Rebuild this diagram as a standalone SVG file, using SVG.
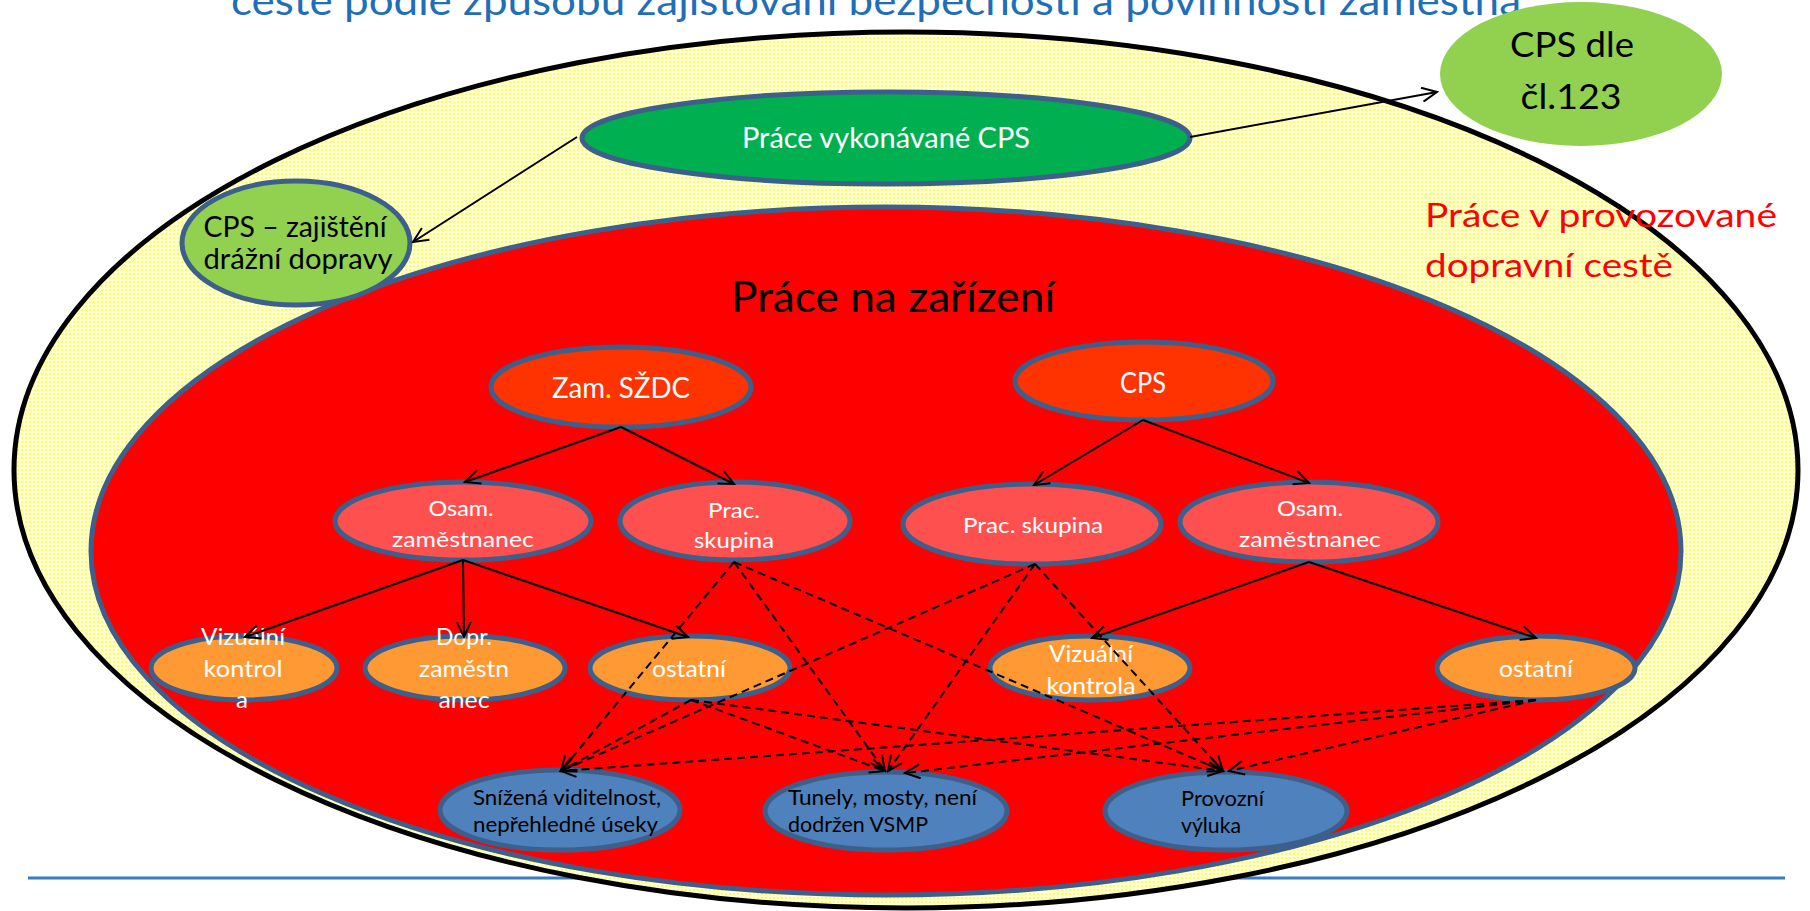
<svg xmlns="http://www.w3.org/2000/svg" width="1810" height="911" viewBox="0 0 1810 911">
<defs>
<pattern id="dots" width="4" height="4" patternUnits="userSpaceOnUse">
<rect width="4" height="4" fill="#ffffd6"/>
<circle cx="2" cy="2" r="1.1" fill="#ffff3c"/>
</pattern>
<marker id="arr" viewBox="0 0 18 16" refX="16" refY="8" markerWidth="18" markerHeight="16" markerUnits="userSpaceOnUse" orient="auto">
<path d="M1,1 L16,8 L1,15" fill="none" stroke="#000" stroke-width="2"/>
</marker>
<style>
text{font-family:Lato,"Liberation Sans","Noto Sans",sans-serif}
.node{stroke:#3d5f8c;stroke-width:5}
.zam{fill:#ff3300}
.sal{fill:#ff5050}
.ora{fill:#ff9933}
.blu{fill:#4f81bd}
.wt{fill:#ffffff;text-anchor:middle}
.bt{fill:#000000}
.solid{stroke:#000;stroke-width:2;fill:none;marker-end:url(#arr)}
.dash{stroke:#000;stroke-width:2;fill:none;stroke-dasharray:8 5;marker-end:url(#arr)}
</style>
</defs>
<rect width="1810" height="911" fill="#ffffff"/>
<text x="231" y="15" font-size="40" fill="#1e6fb8" textLength="1290" lengthAdjust="spacingAndGlyphs">cestě podle způsobu zajišťování bezpečnosti a povinností zaměstna</text>
<line x1="28" y1="878" x2="1785" y2="878" stroke="#3a7cc0" stroke-width="3"/>
<g id="provozovana-cesta">
<ellipse cx="906" cy="470" rx="892" ry="438" fill="url(#dots)" stroke="#000" stroke-width="5"/>
<text x="1425" y="227" font-size="33" fill="#ff0000" textLength="352" lengthAdjust="spacingAndGlyphs">Práce v provozované</text>
<text x="1425" y="277" font-size="33" fill="#ff0000" textLength="248" lengthAdjust="spacingAndGlyphs">dopravní cestě</text>
</g>
<g id="prace-na-zarizeni">
<ellipse cx="886" cy="551" rx="795" ry="344" fill="#ff0000" class="node"/>
<text x="731" y="312" font-size="42" class="bt" textLength="324" lengthAdjust="spacingAndGlyphs">Práce na zařízení</text>
</g>
<g id="prace-vykonavane-cps">
<ellipse cx="886" cy="138" rx="304" ry="46" fill="#00b050" class="node"/>
<text x="886" y="148" font-size="28" class="wt" textLength="288" lengthAdjust="spacingAndGlyphs">Práce vykonávané CPS</text>
</g>
<g id="cps-dle-cl123">
<ellipse cx="1581" cy="74" rx="141" ry="72" fill="#92d050"/>
<text x="1572" y="57" font-size="34" class="bt" text-anchor="middle" textLength="124" lengthAdjust="spacingAndGlyphs">CPS dle</text>
<text x="1571" y="109" font-size="34" class="bt" text-anchor="middle" textLength="101" lengthAdjust="spacingAndGlyphs">čl.123</text>
</g>
<g id="cps-zajisteni">
<ellipse cx="296" cy="243" rx="114" ry="62" fill="#92d050" class="node"/>
<text x="295" y="237" font-size="28" class="bt" text-anchor="middle" textLength="183" lengthAdjust="spacingAndGlyphs">CPS – zajištění</text>
<text x="298" y="269" font-size="28" class="bt" text-anchor="middle" textLength="189" lengthAdjust="spacingAndGlyphs">drážní dopravy</text>
</g>
<g id="zam-szdc">
<ellipse cx="621" cy="387" rx="130" ry="40" class="node zam"/>
<text x="621" y="398" font-size="29" class="wt" textLength="138" lengthAdjust="spacingAndGlyphs">Zam<tspan fill="#ffff00">.</tspan> SŽDC</text>
</g>
<g id="cps">
<ellipse cx="1144" cy="381" rx="129" ry="39" class="node zam"/>
<text x="1143" y="393" font-size="28" class="wt" textLength="46" lengthAdjust="spacingAndGlyphs">CPS</text>
</g>
<g id="osam-l">
<ellipse cx="463" cy="521" rx="128" ry="39" class="node sal"/>
<text x="461" y="516" font-size="22" class="wt" textLength="65" lengthAdjust="spacingAndGlyphs">Osam.</text>
<text x="463" y="547" font-size="22" class="wt" textLength="142" lengthAdjust="spacingAndGlyphs">zaměstnanec</text>
</g>
<g id="prac-l">
<ellipse cx="735" cy="521" rx="115" ry="39" class="node sal"/>
<text x="734" y="518" font-size="22" class="wt" textLength="52" lengthAdjust="spacingAndGlyphs">Prac.</text>
<text x="734" y="548" font-size="22" class="wt" textLength="80" lengthAdjust="spacingAndGlyphs">skupina</text>
</g>
<g id="prac-r">
<ellipse cx="1032" cy="524" rx="129" ry="40" class="node sal"/>
<text x="1033" y="533" font-size="22" class="wt" textLength="140" lengthAdjust="spacingAndGlyphs">Prac. skupina</text>
</g>
<g id="osam-r">
<ellipse cx="1309" cy="522" rx="129" ry="40" class="node sal"/>
<text x="1310" y="516" font-size="22" class="wt" textLength="66" lengthAdjust="spacingAndGlyphs">Osam.</text>
<text x="1310" y="547" font-size="22" class="wt" textLength="142" lengthAdjust="spacingAndGlyphs">zaměstnanec</text>
</g>
<g id="vizualni-l">
<ellipse cx="244" cy="668" rx="93" ry="32" class="node ora"/>
<text x="243" y="645" font-size="24" class="wt" textLength="84" lengthAdjust="spacingAndGlyphs">Vizuální</text>
<text x="243" y="677" font-size="24" class="wt" textLength="79" lengthAdjust="spacingAndGlyphs">kontrol</text>
<text x="242" y="708" font-size="24" class="wt">a</text>
</g>
<g id="dopr">
<ellipse cx="465" cy="668" rx="100" ry="32" class="node ora"/>
<text x="464" y="645" font-size="24" class="wt" textLength="56" lengthAdjust="spacingAndGlyphs">Dopr.</text>
<text x="464" y="677" font-size="24" class="wt" textLength="90" lengthAdjust="spacingAndGlyphs">zaměstn</text>
<text x="464" y="708" font-size="24" class="wt" textLength="51" lengthAdjust="spacingAndGlyphs">anec</text>
</g>
<g id="ostatni-l">
<ellipse cx="690" cy="668" rx="100" ry="32" class="node ora"/>
<text x="689" y="677" font-size="24" class="wt" textLength="74" lengthAdjust="spacingAndGlyphs">ostatní</text>
</g>
<g id="vizualni-r">
<ellipse cx="1090" cy="668" rx="100" ry="32" class="node ora"/>
<text x="1091" y="662" font-size="24" class="wt" textLength="84" lengthAdjust="spacingAndGlyphs">Vizuální</text>
<text x="1091" y="694" font-size="24" class="wt" textLength="89" lengthAdjust="spacingAndGlyphs">kontrola</text>
</g>
<g id="ostatni-r">
<ellipse cx="1536" cy="668" rx="99" ry="32" class="node ora"/>
<text x="1536" y="677" font-size="24" class="wt" textLength="74" lengthAdjust="spacingAndGlyphs">ostatní</text>
</g>
<g id="snizena">
<ellipse cx="560" cy="810" rx="120" ry="40" class="node blu"/>
<text x="473" y="805" font-size="22" class="bt" textLength="188" lengthAdjust="spacingAndGlyphs">Snížená viditelnost,</text>
<text x="473" y="832" font-size="22" class="bt" textLength="185" lengthAdjust="spacingAndGlyphs">nepřehledné úseky</text>
</g>
<g id="tunely">
<ellipse cx="886" cy="811" rx="121" ry="39" class="node blu"/>
<text x="788" y="805" font-size="22" class="bt" textLength="189" lengthAdjust="spacingAndGlyphs">Tunely, mosty, není</text>
<text x="788" y="832" font-size="22" class="bt" textLength="140" lengthAdjust="spacingAndGlyphs">dodržen VSMP</text>
</g>
<g id="provozni">
<ellipse cx="1226" cy="811" rx="121" ry="39" class="node blu"/>
<text x="1181" y="806" font-size="22" class="bt" textLength="83" lengthAdjust="spacingAndGlyphs">Provozní</text>
<text x="1181" y="833" font-size="22" class="bt" textLength="60" lengthAdjust="spacingAndGlyphs">výluka</text>
</g>
<g id="connectors">
<line x1="577" y1="137" x2="413" y2="242" class="solid"/>
<line x1="1190" y1="137" x2="1437" y2="92" class="solid"/>
<line x1="621" y1="427" x2="465" y2="482" class="solid"/>
<line x1="621" y1="427" x2="734" y2="484" class="solid"/>
<line x1="1143" y1="420" x2="1034" y2="485" class="solid"/>
<line x1="1143" y1="420" x2="1309" y2="483" class="solid"/>
<line x1="463" y1="560" x2="245" y2="637" class="solid"/>
<line x1="463" y1="560" x2="464" y2="637" class="solid"/>
<line x1="463" y1="560" x2="688" y2="637" class="solid"/>
<line x1="1309" y1="562" x2="1092" y2="638" class="solid"/>
<line x1="1309" y1="562" x2="1536" y2="638" class="solid"/>
<line x1="734" y1="562" x2="561" y2="771" class="dash"/>
<line x1="734" y1="562" x2="885" y2="771" class="dash"/>
<line x1="734" y1="562" x2="1223" y2="771" class="dash"/>
<line x1="1035" y1="564" x2="561" y2="771" class="dash"/>
<line x1="1035" y1="564" x2="888" y2="771" class="dash"/>
<line x1="1035" y1="564" x2="1223" y2="771" class="dash"/>
<line x1="691" y1="700" x2="561" y2="771" class="dash"/>
<line x1="691" y1="700" x2="885" y2="771" class="dash"/>
<line x1="691" y1="700" x2="1223" y2="771" class="dash"/>
<line x1="1536" y1="700" x2="561" y2="771" class="dash"/>
<line x1="1536" y1="700" x2="905" y2="773" class="dash"/>
<line x1="1536" y1="700" x2="1229" y2="771" class="dash"/>
</g>
</svg>
